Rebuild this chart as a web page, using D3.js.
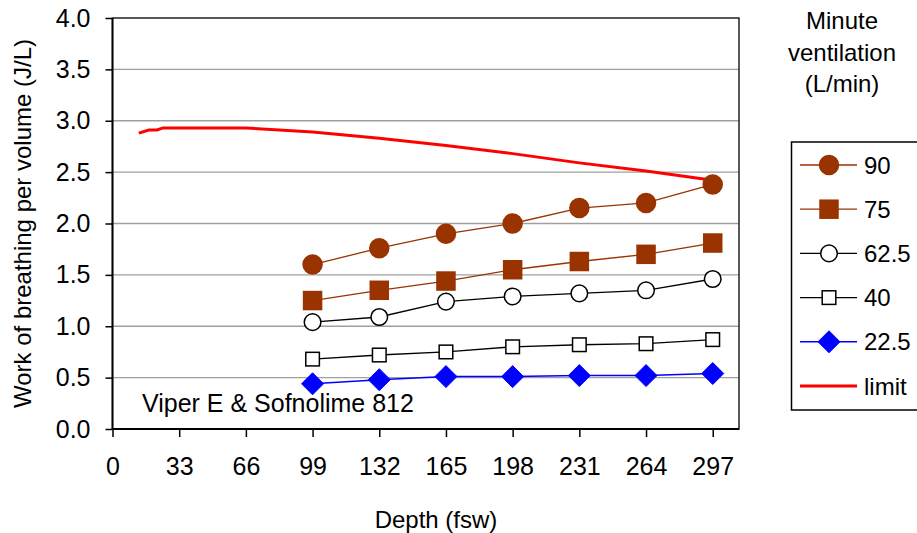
<!DOCTYPE html>
<html>
<head>
<meta charset="utf-8">
<script src="https://cdn.jsdelivr.net/npm/d3@7"></script>
<style>
  body { margin: 0; background: #fff; }
  svg { font-family: "Liberation Sans", Arial, sans-serif; }
</style>
</head>
<body>
<div id="chart"></div>
<script>
// depths (fsw) where the series were measured
const depths = [99, 132, 165, 198, 231, 264, 297];
const xTicks = [0, 33, 66, 99, 132, 165, 198, 231, 264, 297];
const yTicks = [0, 0.5, 1.0, 1.5, 2.0, 2.5, 3.0, 3.5, 4.0];

const v90 = [1.60, 1.76, 1.90, 2.00, 2.15, 2.20, 2.38];
const v75 = [1.25, 1.35, 1.44, 1.55, 1.63, 1.70, 1.81];
const v625 = [1.04, 1.09, 1.24, 1.29, 1.32, 1.35, 1.46];
const v40 = [0.68, 0.72, 0.75, 0.80, 0.82, 0.83, 0.87];
const v225 = [0.44, 0.48, 0.51, 0.51, 0.52, 0.52, 0.54];

const limitDepth = [13, 18, 22, 25, 33, 66, 99, 132, 165, 198, 231, 264, 297];
const limitVal = [2.88, 2.91, 2.91, 2.93, 2.93, 2.93, 2.89, 2.83, 2.76, 2.68, 2.59, 2.51, 2.42];

const seriesNames = ['90', '75', '62.5', '40', '22.5'];

const brown = '#993300';
const series = [
    { name: seriesNames[0], values: v90, color: brown, shape: 'circle', fill: brown, size: 9.5 },
    { name: seriesNames[1], values: v75, color: brown, shape: 'square', fill: brown, size: 9 },
    { name: seriesNames[2], values: v625, color: '#000', shape: 'circle', fill: '#fff', size: 8.3 },
    { name: seriesNames[3], values: v40, color: '#000', shape: 'square', fill: '#fff', size: 6.8 },
    { name: seriesNames[4], values: v225, color: '#0000ff', shape: 'diamond', fill: '#0000ff', size: 11 }
];

const width = 917, height = 533;
const margin = { top: 18, right: 178, bottom: 104, left: 112.5 };

const svg = d3.select('#chart').append('svg')
    .attr('width', width)
    .attr('height', height);

const x = d3.scaleLinear().domain([0, 310]).range([margin.left, width - margin.right]);
const y = d3.scaleLinear().domain([0, 4]).range([height - margin.bottom, margin.top]);

// gridlines
svg.append('g')
    .selectAll('line')
    .data(yTicks.filter(d => d > 0 && d < 4))
    .enter().append('line')
    .attr('x1', x(0)).attr('x2', x(310))
    .attr('y1', d => y(d)).attr('y2', d => y(d))
    .attr('stroke', '#a0a0a0').attr('stroke-width', 1.3);

// plot border
svg.append('rect')
    .attr('x', x(0)).attr('y', y(4))
    .attr('width', x(310) - x(0)).attr('height', y(0) - y(4))
    .attr('fill', 'none').attr('stroke', '#222').attr('stroke-width', 1.5);

// axes
const xAxis = svg.append('g')
    .attr('transform', `translate(0,${y(0)})`)
    .call(d3.axisBottom(x).tickValues(xTicks).tickSize(8).tickPadding(20).tickFormat(d3.format('d')));
const yAxis = svg.append('g')
    .attr('transform', `translate(${x(0)},0)`)
    .call(d3.axisLeft(y).tickValues(yTicks).tickSize(7).tickPadding(15).tickFormat(d3.format('.1f')));

[xAxis, yAxis].forEach(a => {
    a.select('.domain').attr('stroke', '#000').attr('stroke-width', 1.8);
    a.selectAll('.tick line').attr('stroke', '#000').attr('stroke-width', 1.5);
    a.selectAll('.tick text').attr('font-size', 25).attr('fill', '#000')
        .attr('font-family', '"Liberation Sans", Arial, sans-serif');
});
xAxis.select('.domain').attr('d', `M${x(0)},0H${x(310)}`);
yAxis.select('.domain').attr('d', `M0,${y(0)}V${y(4)}`);

// axis titles
svg.append('text')
    .attr('x', 436).attr('y', 528)
    .attr('text-anchor', 'middle').attr('font-size', 24)
    .text('Depth (fsw)');
svg.append('text')
    .attr('transform', `translate(31,${(y(0) + y(4)) / 2}) rotate(-90)`)
    .attr('text-anchor', 'middle').attr('font-size', 24)
    .text('Work of breathing per volume (J/L)');

svg.append('text')
    .attr('x', 142).attr('y', 412)
    .attr('font-size', 25)
    .text('Viper E & Sofnolime 812');

function marker(sel, s, cx, cy) {
    if (s.shape === 'circle') {
        sel.append('circle').attr('cx', cx).attr('cy', cy).attr('r', s.size)
            .attr('fill', s.fill).attr('stroke', s.color).attr('stroke-width', 1.5);
    } else if (s.shape === 'square') {
        sel.append('rect').attr('x', cx - s.size).attr('y', cy - s.size)
            .attr('width', s.size * 2).attr('height', s.size * 2)
            .attr('fill', s.fill).attr('stroke', s.fill === '#fff' ? '#000' : s.color).attr('stroke-width', 1.5);
    } else {
        const r = s.size;
        sel.append('path').attr('d', `M${cx},${cy - r}L${cx + r},${cy}L${cx},${cy + r}L${cx - r},${cy}Z`)
            .attr('fill', s.fill).attr('stroke', s.color).attr('stroke-width', 1);
    }
}

// limit line
svg.append('path')
    .datum(limitDepth.map((d, i) => [d, limitVal[i]]))
    .attr('d', d3.line().x(d => x(d[0])).y(d => y(d[1])))
    .attr('fill', 'none').attr('stroke', '#ff0000').attr('stroke-width', 3);

// series
const line = d3.line().x(d => x(d[0])).y(d => y(d[1]));
series.slice().reverse().forEach(s => {
    const pts = depths.map((d, i) => [d, s.values[i]]);
    const g = svg.append('g');
    g.append('path').datum(pts).attr('d', line)
        .attr('fill', 'none').attr('stroke', s.color).attr('stroke-width', s.color === '#0000ff' ? 1.5 : 1.3);
    pts.forEach(p => marker(g, s, x(p[0]), y(p[1])));
});

// legend title
const lt = svg.append('text').attr('text-anchor', 'middle').attr('font-size', 24);
['Minute', 'ventilation', '(L/min)'].forEach((t, i) => {
    lt.append('tspan').attr('x', 842).attr('y', 29 + i * 31.5).text(t);
});

// legend box
svg.append('rect')
    .attr('x', 791.5).attr('y', 142).attr('width', 140).attr('height', 268)
    .attr('fill', '#fff').attr('stroke', '#000').attr('stroke-width', 1.5);

const legendY = d3.scalePoint().domain(seriesNames.concat(['limit'])).range([165, 386]);
series.forEach(s => {
    const ly = legendY(s.name);
    const g = svg.append('g');
    g.append('line').attr('x1', 800).attr('x2', 857).attr('y1', ly).attr('y2', ly)
        .attr('stroke', s.color).attr('stroke-width', s.color === '#0000ff' ? 1.5 : 1.3);
    marker(g, s, 829, ly);
    g.append('text').attr('x', 864).attr('y', ly + 8.5).attr('font-size', 24).text(s.name);
});
{
    const ly = legendY('limit');
    svg.append('line').attr('x1', 800).attr('x2', 857).attr('y1', ly).attr('y2', ly)
        .attr('stroke', '#ff0000').attr('stroke-width', 3);
    svg.append('text').attr('x', 864).attr('y', ly + 8.5).attr('font-size', 24).text('limit');
}
</script>
</body>
</html>
